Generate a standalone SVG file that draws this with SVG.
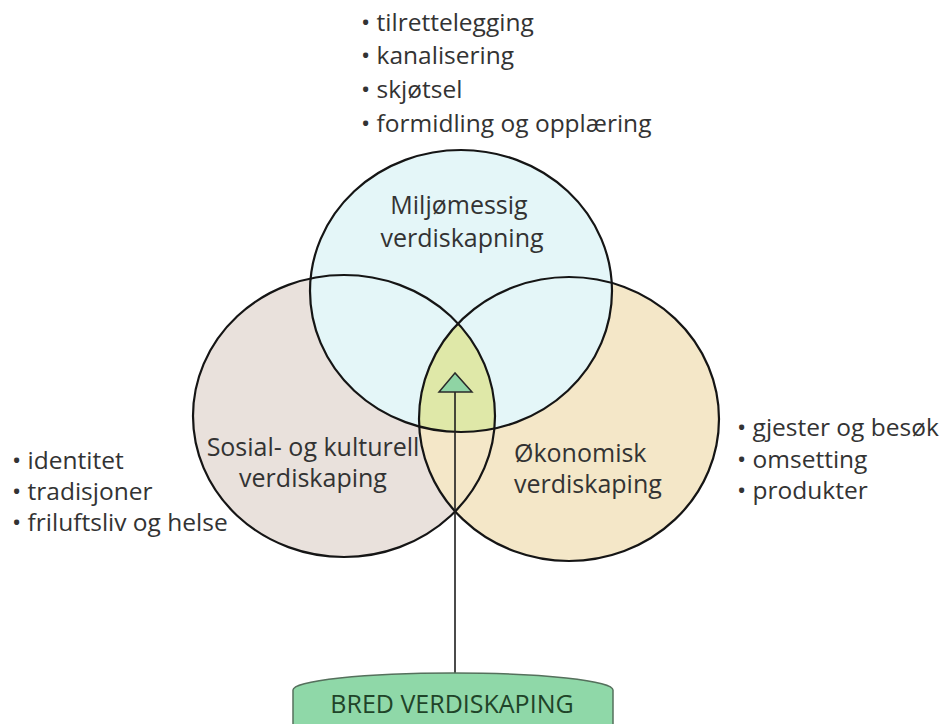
<svg xmlns="http://www.w3.org/2000/svg" width="946" height="724" viewBox="0 0 946 724">
<style>
.t{font-family:"Open Sans","Noto Sans","Liberation Sans",sans-serif;font-size:24.5px;fill:#333333}
.l{font-size:25px}
.c{stroke:#151515;stroke-width:2.2;fill:none}
</style>
<defs>
<clipPath id="clipL"><ellipse cx="344" cy="416" rx="151" ry="141"/></clipPath>
<clipPath id="clipR"><ellipse cx="569" cy="419" rx="150" ry="142"/></clipPath>
</defs>
<rect width="946" height="724" fill="#ffffff"/>
<g id="sosial">
<ellipse cx="344" cy="416" rx="151" ry="141" fill="#e9e1dc"/>
</g>
<g id="okonomisk">
<ellipse cx="569" cy="419" rx="150" ry="142" fill="#f4e7c8"/>
</g>
<g id="miljo">
<ellipse cx="461" cy="291" rx="151" ry="141" fill="#e4f6f8"/>
</g>
<g id="center" clip-path="url(#clipL)">
<ellipse cx="461" cy="291" rx="151" ry="141" fill="#dfe8a8" clip-path="url(#clipR)"/>
</g>
<g id="outlines">
<ellipse class="c" cx="344" cy="416" rx="151" ry="141"/>
<ellipse class="c" cx="569" cy="419" rx="150" ry="142"/>
<ellipse class="c" cx="461" cy="291" rx="151" ry="141"/>
</g>
<g id="labels">
<text class="t l" x="459" y="214" text-anchor="middle">Miljømessig</text>
<text class="t l" x="462" y="247" text-anchor="middle">verdiskapning</text>
<text class="t l" x="313" y="456" text-anchor="middle">Sosial- og kulturell</text>
<text class="t l" x="313" y="487" text-anchor="middle">verdiskaping</text>
<text class="t l" x="514" y="462">Økonomisk</text>
<text class="t l" x="514" y="493">verdiskaping</text>
</g>
<g id="list-top" class="t">
<text x="361" y="31">• tilrettelegging</text>
<text x="361" y="64">• kanalisering</text>
<text x="361" y="98">• skjøtsel</text>
<text x="361" y="132">• formidling og opplæring</text>
</g>
<g id="list-left" class="t">
<text x="12" y="469">• identitet</text>
<text x="12" y="500">• tradisjoner</text>
<text x="12" y="531">• friluftsliv og helse</text>
</g>
<g id="list-right" class="t">
<text x="737" y="436">• gjester og besøk</text>
<text x="737" y="468">• omsetting</text>
<text x="737" y="499">• produkter</text>
</g>
<g id="connectors">
<line x1="455" y1="673" x2="455" y2="392" stroke="#1e1e1e" stroke-width="1.6"/>
<polygon points="455,373 439,392 472,392" fill="#8fd4a4" stroke="#2a2a2a" stroke-width="1.5"/>
</g>
<g id="bred">
<path d="M293,730 L293,690 A160,17 0 0 1 613,690 L613,730 Z" fill="#8fd8a8" stroke="#55705c" stroke-width="1.5"/>
<text x="452" y="713" text-anchor="middle" style="font-family:'Open Sans','Noto Sans','Liberation Sans',sans-serif;font-size:25px;fill:#1f4429">BRED VERDISKAPING</text>
</g>
</svg>
